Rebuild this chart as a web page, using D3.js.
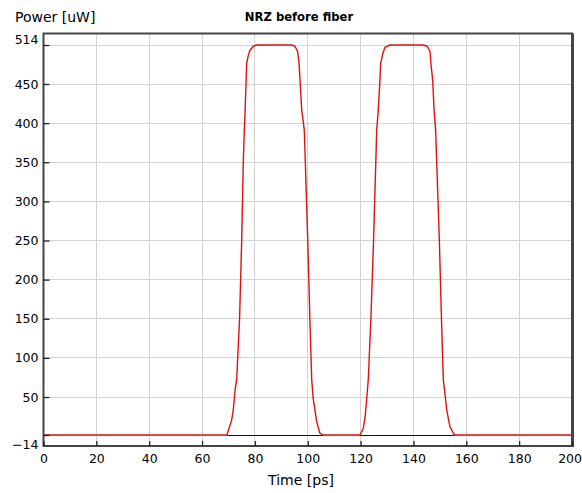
<!DOCTYPE html>
<html><head><meta charset="utf-8">
<script src="https://cdn.jsdelivr.net/npm/d3@7"></script>
<style>
html,body{margin:0;padding:0;background:#fff;}
svg{display:block;}
text{font-family:"DejaVu Sans",Verdana,sans-serif;fill:#000;}
</style></head>
<body>
<svg id="chart" width="582" height="493"></svg>
<script>
// ---- data ----
const chartTitle = "NRZ before fiber";
const xLabel = "Time [ps]";
const yLabel = "Power [uW]";
const xTicks = [0, 20, 40, 60, 80, 100, 120, 140, 160, 180, 200];
const yTicks = [-14, 50, 100, 150, 200, 250, 300, 350, 400, 450, 514];
const timePs = [0,69.4,71.2,71.8,72.5,73.1,74.2,75.0,75.6,76.0,
  76.3,76.9,77.5,78.1,79.4,80.7,93.9,95.2,96.2,96.7,
  97.1,97.7,98.7,100.0,100.8,101.5,102.1,103.4,104.6,105.8,
  119.8,121.0,121.7,122.3,122.9,123.9,124.9,126.1,126.7,127.3,
  127.6,128.4,129.2,131.1,143.7,145.2,146.3,146.6,147.3,147.8,
  148.4,149.8,150.6,151.3,151.9,152.6,153.8,155.1,155.7,200];
const powerUW = [-14,-14,11,28,59,72,150,250,350,391,
  417,484,497,505,512,514,514,512,503,484,
  455,417,391,250,150,72,46,8,-11,-14,
  -14,-3,16,46,72,150,250,391,417,455,
  484,500,510,514,514,512,503,484,455,417,
  391,250,150,72,55,28,0,-11,-14,-14];
const baseStart = [69.4, 119.8];
const baseEnd = [105.8, 155.7];
const baseLevel = -14;

// ---- layout ----
const svg = d3.select("#chart");
const L = 43.5, R = 572, T = 33.5, B = 446;
const x = d3.scaleLinear().domain([0, 200]).range([L, R]);
// axis min/max labels sit at end gridlines, inner ticks are evenly spaced
const y = d3.scaleLinear().domain([-14, 50, 450, 514]).range([435, 397, 84, 45]);

const snap = v => Math.round(v - 0.5) + 0.5;

// gridlines
const grid = svg.append("g");
grid.selectAll("line.gx").data(xTicks.filter(d => d > 0 && d < 200)).join("line")
  .attr("x1", d => snap(x(d))).attr("x2", d => snap(x(d)))
  .attr("y1", T).attr("y2", B)
  .attr("stroke", "#d3d3d3").attr("stroke-width", 1);
grid.selectAll("line.gy").data(yTicks).join("line")
  .attr("x1", L).attr("x2", R)
  .attr("y1", d => snap(y(d))).attr("y2", d => snap(y(d)))
  .attr("stroke", "#d3d3d3").attr("stroke-width", 1);

// baseline (black) segments
svg.append("g").selectAll("line").data(baseStart).join("line")
  .attr("x1", d => x(d)).attr("x2", (d, i) => x(baseEnd[i]))
  .attr("y1", snap(y(baseLevel))).attr("y2", snap(y(baseLevel)))
  .attr("stroke", "#111").attr("stroke-width", 1.2);

// signal
const pts = timePs.map((t, i) => [t, powerUW[i]]);
svg.append("path").datum(pts)
  .attr("d", d3.line().x(d => x(d[0])).y(d => y(d[1])))
  .attr("fill", "none").attr("stroke", "#e01010").attr("stroke-width", 1.4)
  .attr("stroke-linejoin", "round");

// frame
svg.append("rect").attr("x", L).attr("y", T).attr("width", R - L).attr("height", B - T)
  .attr("fill", "none").attr("stroke", "#444").attr("stroke-width", 2);
svg.append("line").attr("x1", R + 1).attr("x2", R + 1).attr("y1", T).attr("y2", B + 1)
  .attr("stroke", "#444").attr("stroke-width", 2);

// axes with inner ticks
const xAxis = d3.axisBottom(x).tickValues(xTicks).tickSize(-5).tickPadding(8).tickFormat(d3.format("d"));
const gx = svg.append("g").attr("transform", `translate(0,${B})`).call(xAxis);
gx.select(".domain").remove();
gx.selectAll(".tick line").attr("stroke", "#222").attr("stroke-width", 1.3);
gx.selectAll(".tick text").attr("font-size", 12.5).attr("font-family", "DejaVu Sans").attr("fill", "#000")
  .attr("text-anchor", d => d === 200 ? "end" : "middle")
  .attr("dx", d => d === 200 ? 9.5 : 0);

const yAxis = d3.axisLeft(y).tickValues(yTicks).tickSize(-6).tickPadding(5).tickFormat(d3.format("d"));
const gy = svg.append("g").attr("transform", `translate(${L},0)`).call(yAxis);
gy.select(".domain").remove();
gy.selectAll(".tick line").attr("stroke", "#222").attr("stroke-width", 1.3);
gy.selectAll(".tick text").attr("font-size", 12.5).attr("font-family", "DejaVu Sans").attr("fill", "#000")
  .attr("dy", d => d === 514 ? "-0.1em" : (d === -14 ? "1.05em" : "0.32em"));

// titles
svg.append("text").attr("x", 299).attr("y", 20.5).attr("text-anchor", "middle")
  .attr("font-size", 11.6).attr("font-weight", "bold").text(chartTitle);
svg.append("text").attr("x", 15).attr("y", 21.5).attr("font-size", 14).text(yLabel);
svg.append("text").attr("x", 301).attr("y", 485).attr("text-anchor", "middle")
  .attr("font-size", 14).text(xLabel);
</script>
</body></html>
